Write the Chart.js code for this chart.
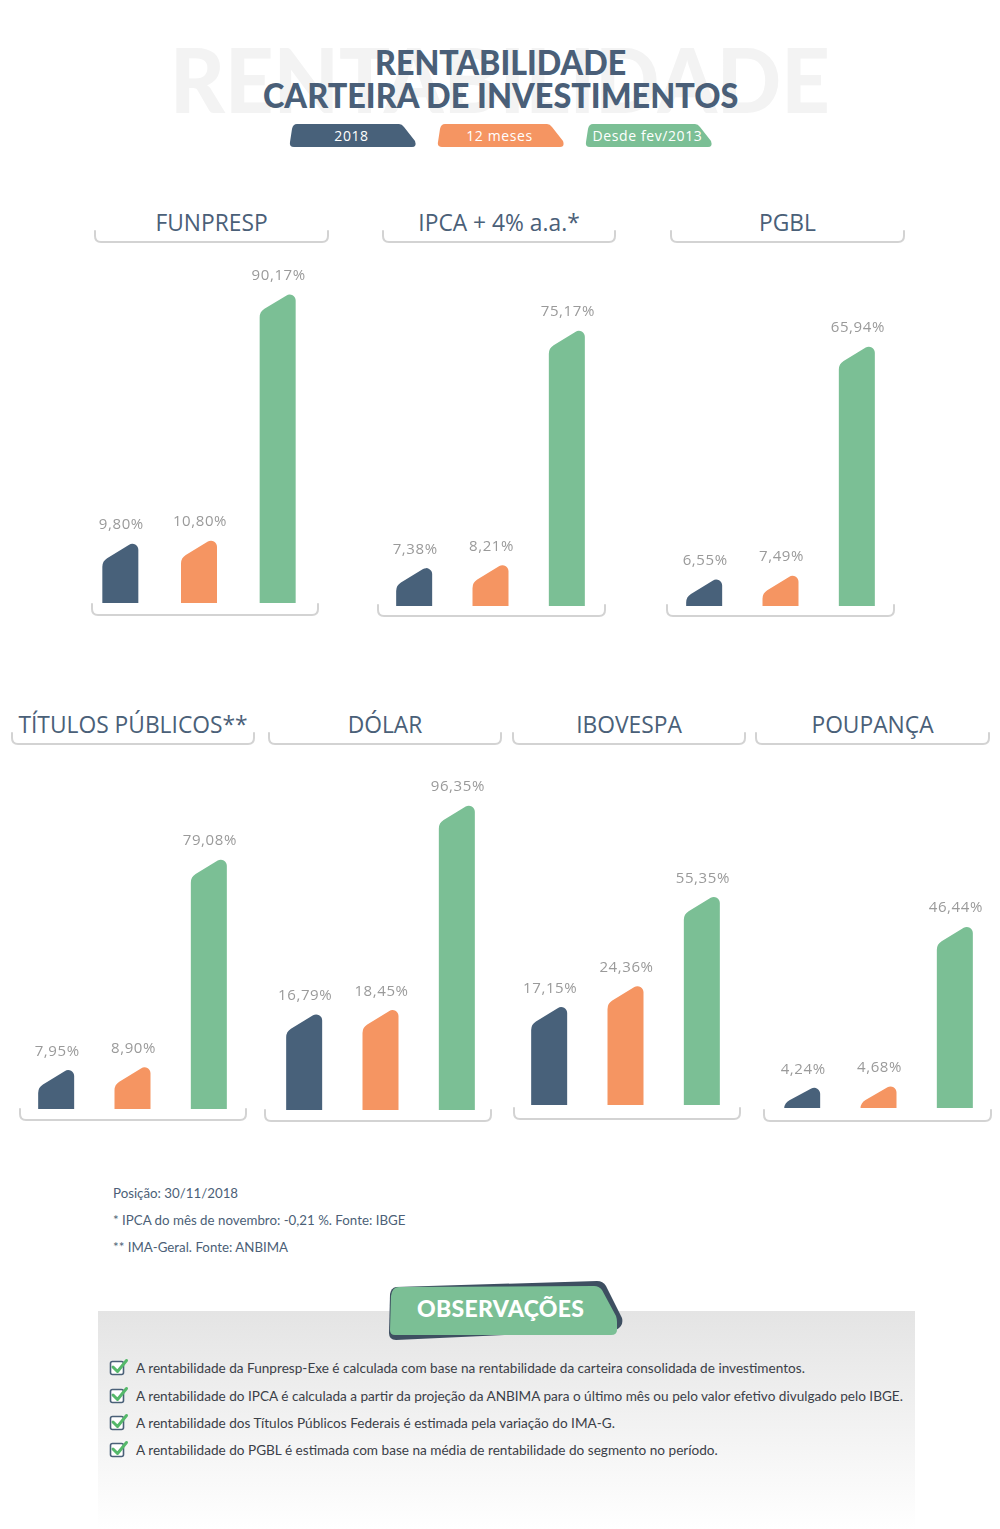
<!DOCTYPE html>
<html>
<head>
<meta charset="utf-8">
<script src="https://cdn.jsdelivr.net/npm/chart.js@4.4.0/dist/chart.umd.min.js"></script>
<style>
  body { margin: 0; background: #fff; }
  #page { position: relative; width: 1000px; height: 1529px; overflow: hidden; font-family: 'Open Sans', sans-serif; }
  .abs { position: absolute; }
  .fit { white-space: nowrap; transform-origin: left center; }
  .watermark { font-family: Lato, sans-serif; font-weight: 900; font-size: 90px; line-height: 90px; color: #f3f3f3; }
  .head { font-family: Lato, sans-serif; font-weight: 900; font-size: 34px; line-height: 34px; color: #4a5f78; }
  .pill { color: #fff; font-size: 14px; line-height: 23px; letter-spacing: 0.6px; text-align: center; }
  .ptitle { color: #4a6078; font-size: 22.8px; line-height: 22px; text-align: center; white-space: nowrap; }
  .note { font-family: Lato, sans-serif; font-size: 13.3px; line-height: 13px; color: #4c5f77; white-space: nowrap; }
  .obs { font-family: Lato, sans-serif; font-size: 13.6px; line-height: 14px; color: #3b4048; white-space: nowrap; }
  .tag { font-family: Lato, sans-serif; font-weight: 900; font-size: 23px; line-height: 23px; color: #fff; letter-spacing: 0.3px; }
  canvas { position: absolute; }
</style>
</head>
<body>
<div id="page">
  <svg class="abs" style="left:0;top:0" width="1000" height="1529" id="deco">
    <defs>
      <linearGradient id="obsGrad" x1="0" y1="0" x2="0" y2="1">
        <stop offset="0" stop-color="#e4e4e4"/>
        <stop offset="1" stop-color="#ffffff"/>
      </linearGradient>
    </defs>
  </svg>
  <div class="abs fit watermark" id="wm" style="left:170px;top:33px">RENTABILIDADE</div>
  <div class="abs fit head" id="h1" style="left:375px;top:45px">RENTABILIDADE</div>
  <div class="abs fit head" id="h2" style="left:263px;top:78px">CARTEIRA DE INVESTIMENTOS</div>
  <div id="texts"></div>
</div>
<script>
// categories and values
const groups = ['FUNPRESP', 'IPCA + 4% a.a.*', 'PGBL', 'TÍTULOS PÚBLICOS**', 'DÓLAR', 'IBOVESPA', 'POUPANÇA'];
const periods = ['2018', '12 meses', 'Desde fev/2013'];
const values2018 = [9.80, 7.38, 6.55, 7.95, 16.79, 17.15, 4.24];
const values12m = [10.80, 8.21, 7.49, 8.90, 18.45, 24.36, 4.68];
const valuesDesde = [90.17, 75.17, 65.94, 79.08, 96.35, 55.35, 46.44];
// value axis range of each small chart
const axisMin = [-10.8, -4.78, -1.40, -6.79, -21.46, -18.5, -2.07];
const axisMax = [103.0, 96.9, 89.4, 112.9, 113.9, 103.0, 90.1];

const colors = ['#48617a', '#f59562', '#7bbf95'];

const footnotes = [
  'Posição: 30/11/2018',
  '* IPCA do mês de novembro: -0,21 %. Fonte: IBGE',
  '** IMA-Geral. Fonte: ANBIMA'
];
const observacoes = [
  'A rentabilidade da Funpresp-Exe é calculada com base na rentabilidade da carteira consolidada de investimentos.',
  'A rentabilidade do IPCA é calculada a partir da projeção da ANBIMA para o último mês ou pelo valor efetivo divulgado pelo IBGE.',
  'A rentabilidade dos Títulos Públicos Federais é estimada pela variação do IMA-G.',
  'A rentabilidade do PGBL é estimada com base na média de rentabilidade do segmento no período.'
];

// layout of each panel: canvas box, title bracket, bottom bracket
const panels = [
  { left: 81, top: 250, w: 236, h: 353, tx: [95, 328], ty: 242, bx: [92, 318], by: 615 },
  { left: 376, top: 250, w: 229, h: 356, tx: [383, 615], ty: 242, bx: [378, 605], by: 616 },
  { left: 666, top: 250, w: 229, h: 356, tx: [671, 904], ty: 242, bx: [667, 894], by: 616 },
  { left: 18, top: 755, w: 229, h: 354, tx: [12, 254], ty: 744, bx: [20, 246], by: 1120 },
  { left: 266, top: 755, w: 229, h: 355, tx: [269, 501], ty: 744, bx: [265, 491], by: 1121 },
  { left: 511, top: 755, w: 229, h: 350, tx: [513, 745], ty: 744, bx: [514, 740], by: 1119 },
  { left: 764, top: 755, w: 229, h: 353, tx: [756, 989], ty: 744, bx: [764, 991], by: 1121 }
];

const page = document.getElementById('page');
const deco = document.getElementById('deco');
const texts = document.getElementById('texts');
const NS = 'http://www.w3.org/2000/svg';

const svgEl = (tag, attrs) => {
  const el = document.createElementNS(NS, tag);
  Object.keys(attrs).forEach((k) => el.setAttribute(k, attrs[k]));
  deco.appendChild(el);
  return el;
}

const addText = (cls, txt, left, top, extra) => {
  const d = document.createElement('div');
  d.className = 'abs ' + cls;
  d.textContent = txt;
  d.style.left = left + 'px';
  d.style.top = top + 'px';
  if (extra) Object.assign(d.style, extra);
  texts.appendChild(d);
  return d;
}

const bracket = (x1, x2, y, up) => {
  svgEl('path', {
    d: `M${x1} ${y - up} L${x1} ${y - 6} Q${x1} ${y} ${x1 + 6} ${y} L${x2 - 6} ${y} Q${x2} ${y} ${x2} ${y - 6} L${x2} ${y - up}`,
    fill: 'none', stroke: '#d3d3d3', 'stroke-width': 2, 'stroke-linecap': 'round'
  });
}

// legend pills
const pillX = [[289, 416], [437, 564], [585, 712]];
periods.forEach((p, i) => {
  const [x0, x1] = pillX[i];
  const y0 = 124, y1 = 147;
  svgEl('path', {
    d: `M${x0 + 8} ${y0} L${x1 - 17} ${y0} Q${x1 - 14} ${y0} ${x1 - 12} ${y0 + 3} L${x1 - 1} ${y1 - 6} Q${x1 + 1} ${y1} ${x1 - 4} ${y1} L${x0 + 5} ${y1} Q${x0} ${y1} ${x0 + 1} ${y1 - 5} L${x0 + 3} ${y0 + 5} Q${x0 + 4} ${y0} ${x0 + 8} ${y0} Z`,
    fill: colors[i]
  });
  addText('pill', p, x0, y0, { width: (x1 - x0 - 2) + 'px' });
});

// observations box
svgEl('rect', { x: 98, y: 1311, width: 817, height: 218, fill: 'url(#obsGrad)' });
svgEl('path', {
  d: 'M396 1287 L597 1281 Q603 1281 606 1286 L622 1318 Q624 1326 616 1330 L396 1340 Q389 1340 389 1333 L390 1294 Q391 1288 396 1287 Z',
  fill: '#3e4f61'
});
svgEl('path', {
  d: 'M399 1287 L594 1286 Q599 1286 602 1290 L616 1316 Q617 1319 617 1322 L617 1330 Q617 1335 611 1335 L395 1335 Q390 1335 390 1330 L391 1296 Q392 1287 399 1287 Z',
  fill: '#7bbf95'
});
addText('tag', 'OBSERVAÇÕES', 417, 1297);

observacoes.forEach((o, i) => {
  const cy = [1368, 1396, 1423, 1450][i];
  svgEl('rect', { x: 110.5, y: cy - 6.5, width: 13, height: 13, rx: 2, fill: '#fff', stroke: '#4a6078', 'stroke-width': 1.6 });
  svgEl('path', { d: `M113 ${cy - 1} L117.5 ${cy + 3.5} L126.5 ${cy - 7.5}`, fill: 'none', stroke: '#55b86a', 'stroke-width': 3, 'stroke-linecap': 'round', 'stroke-linejoin': 'round' });
  addText('obs', o, 136, cy - 7);
});

footnotes.forEach((f, i) => {
  addText('note', f, 113, [1187, 1214, 1241][i]);
});

const fmt = (v) => v.toFixed(2).replace('.', ',') + '%';

// draws bars with slanted top-left corner plus value labels
const slantBars = {
  id: 'slantBars',
  beforeDatasetDraw() { return false; },
  afterDatasetsDraw(chart) {
    const ctx = chart.ctx;
    const ds = chart.data.datasets[0];
    chart.getDatasetMeta(0).data.forEach((bar, i) => {
      const left = bar.x - bar.width / 2, right = bar.x + bar.width / 2;
      const top = bar.y, base = bar.base;
      const drop = Math.min(22, (base - top) * 0.8);
      ctx.save();
      ctx.fillStyle = ds.backgroundColor[i];
      ctx.beginPath();
      ctx.moveTo(left, base);
      ctx.arcTo(left, top + drop, right, top, 10);
      ctx.arcTo(right, top, right, base, 6);
      ctx.lineTo(right, base);
      ctx.closePath();
      ctx.fill();
      ctx.fillStyle = '#9a9a9a';
      ctx.font = '15px "Open Sans"';
      ctx.letterSpacing = '0.6px';
      ctx.textAlign = 'center';
      ctx.textBaseline = 'middle';
      ctx.fillText(fmt(ds.data[i]), bar.x + 1, top - 14);
      ctx.restore();
    });
  }
};

groups.forEach((g, k) => {
  const p = panels[k];
  bracket(p.tx[0], p.tx[1], p.ty, 11);
  bracket(p.bx[0], p.bx[1], p.by, 11);
  addText('ptitle', g, p.tx[0], p.ty - 30, { width: (p.tx[1] - p.tx[0]) + 'px' });

  const canvas = document.createElement('canvas');
  canvas.width = p.w;
  canvas.height = p.h;
  canvas.style.left = p.left + 'px';
  canvas.style.top = p.top + 'px';
  page.appendChild(canvas);
  new Chart(canvas.getContext('2d'), {
    type: 'bar',
    data: {
      labels: periods,
      datasets: [{
        data: [values2018[k], values12m[k], valuesDesde[k]],
        backgroundColor: colors,
        base: axisMin[k],
        barThickness: 36
      }]
    },
    options: {
      responsive: false,
      animation: false,
      layout: { padding: 0 },
      plugins: { legend: { display: false }, tooltip: { enabled: false } },
      scales: {
        x: { display: false },
        y: { display: false, min: axisMin[k], max: axisMax[k] }
      }
    },
    plugins: [slantBars]
  });
});

// squeeze the heading lines to the width they have in the picture
const fitWidth = (id, w) => {
  const el = document.getElementById(id);
  el.style.transform = 'scaleX(' + (w / el.scrollWidth) + ')';
}
document.fonts.ready.then(() => {
  fitWidth('wm', 660);
  fitWidth('h1', 251);
  fitWidth('h2', 475);
});
</script>
</body>
</html>
